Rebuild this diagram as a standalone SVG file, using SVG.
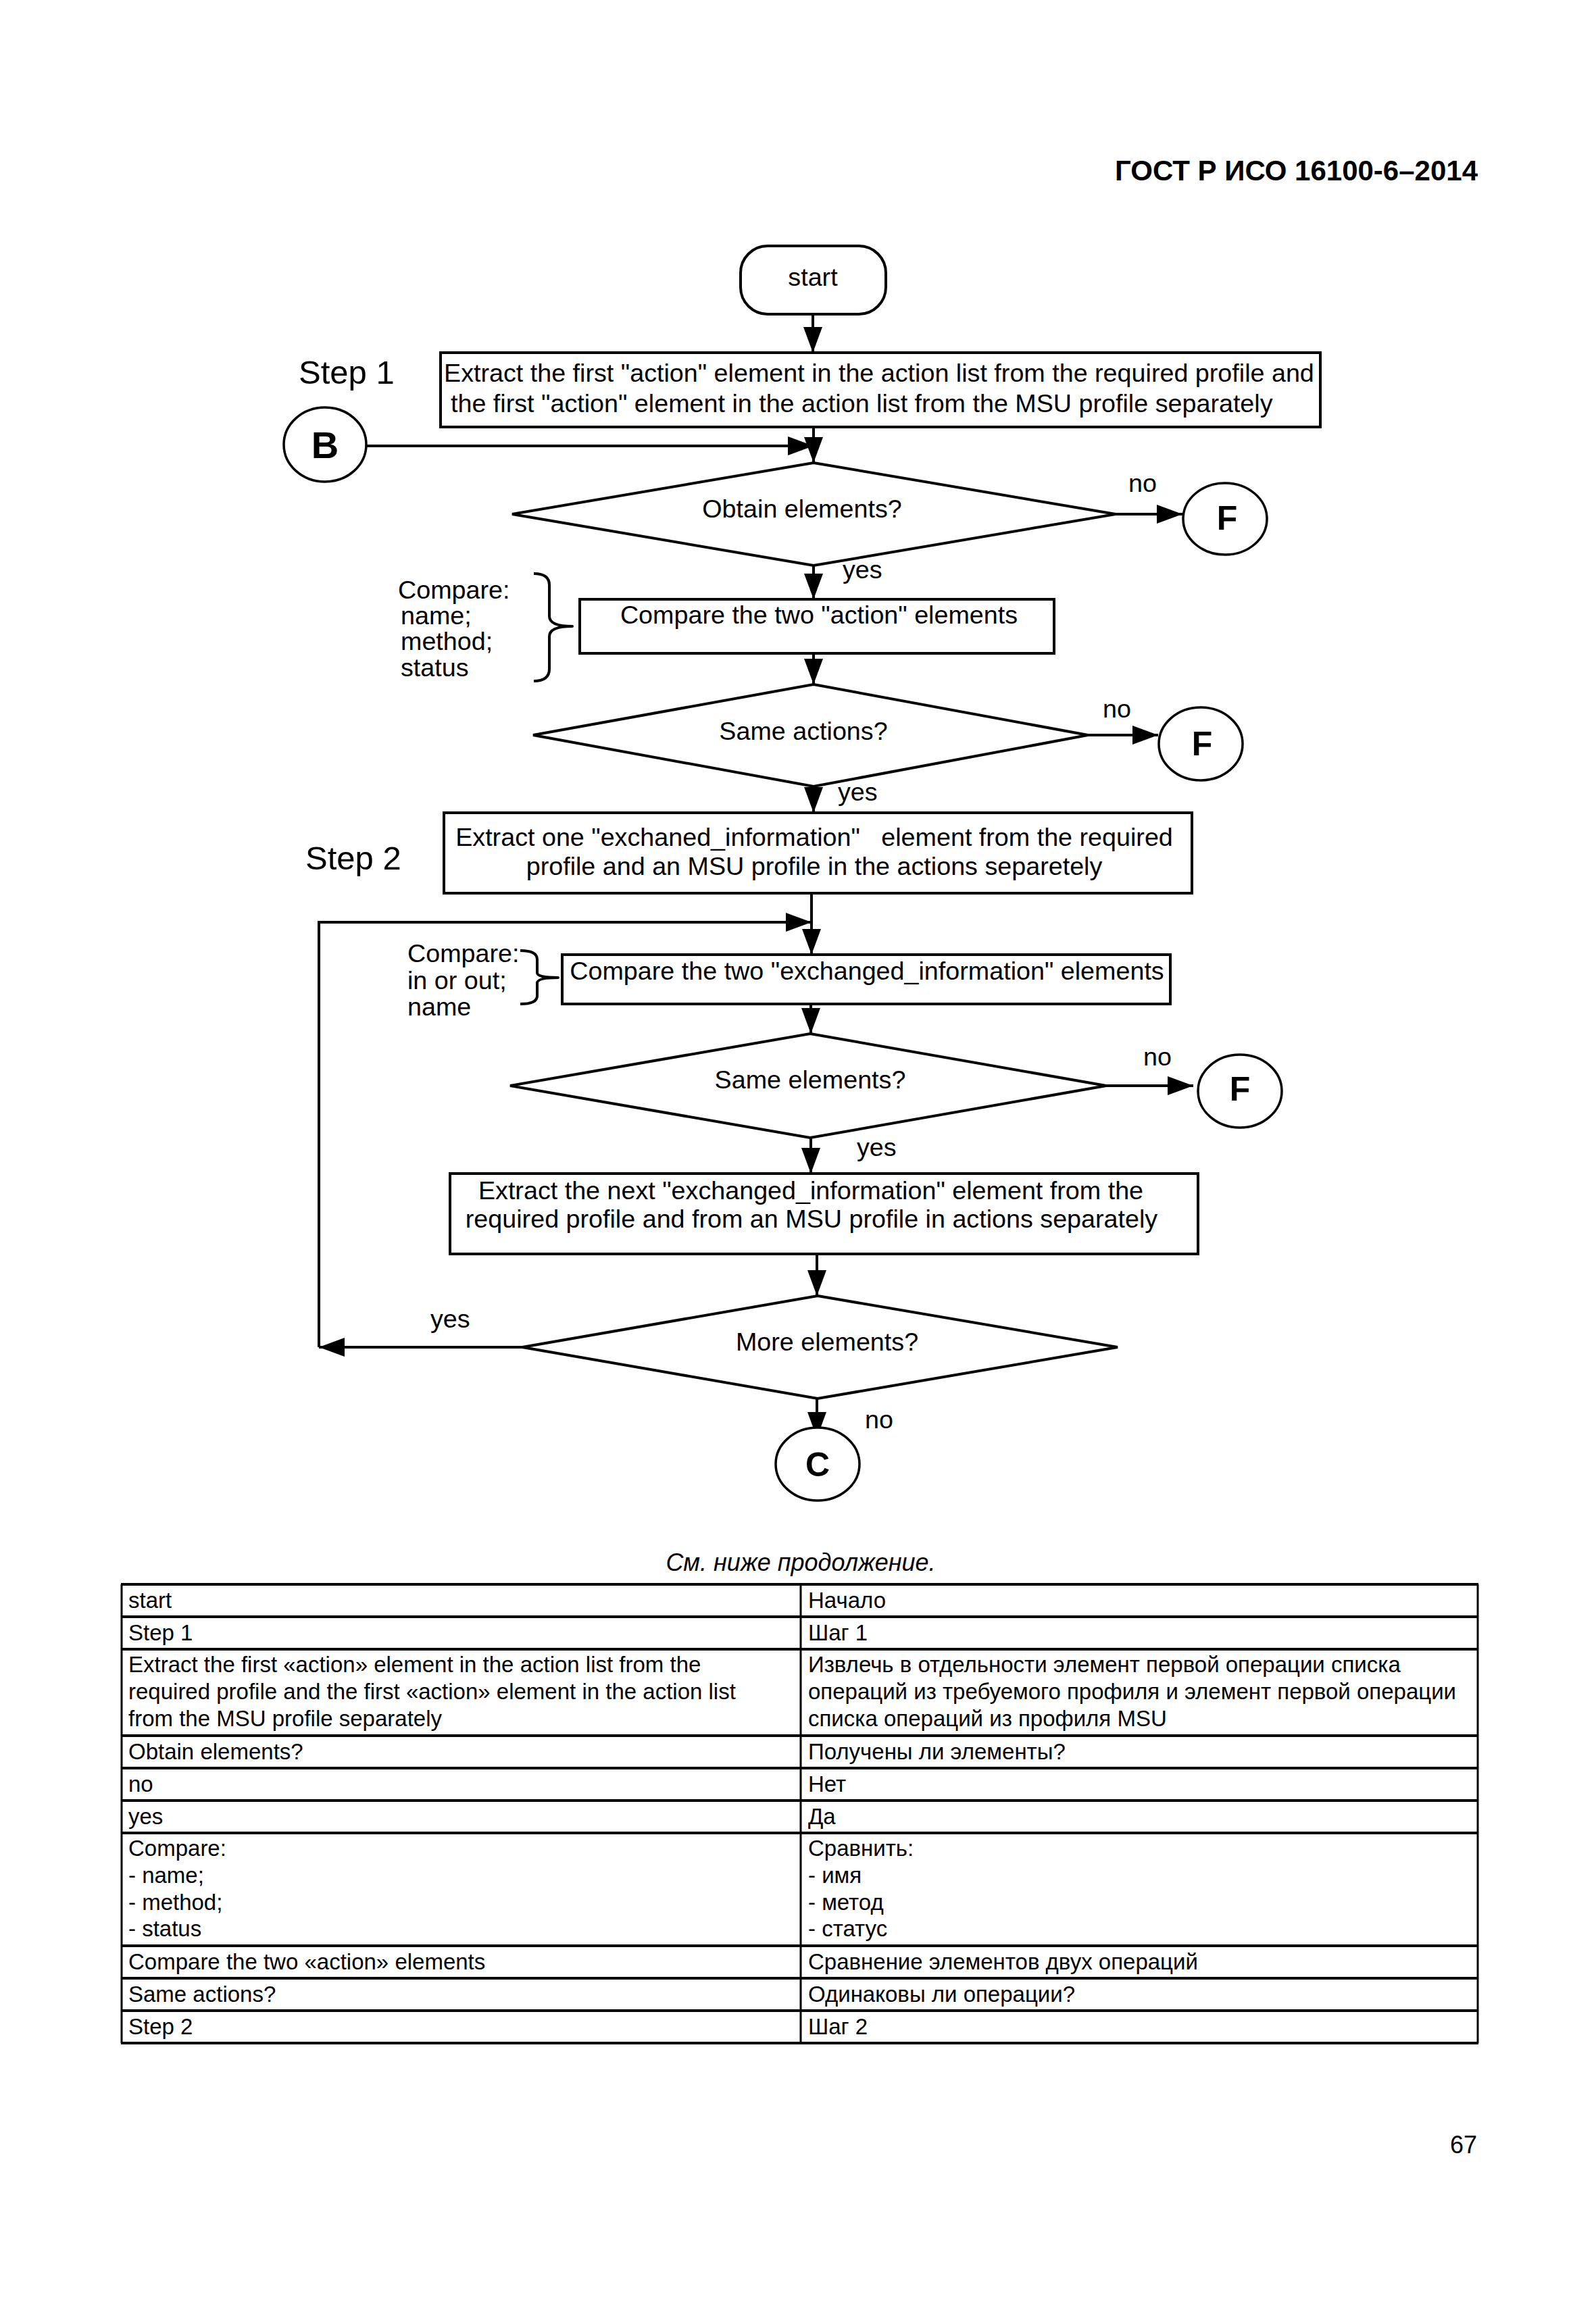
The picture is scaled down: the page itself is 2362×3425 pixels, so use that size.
<svg xmlns="http://www.w3.org/2000/svg" width="2362" height="3425" viewBox="0 0 2362 3425">
<style>
text{font-family:"Liberation Sans",Arial,sans-serif;fill:#000}
.t{font-size:37.7px}
.step{font-size:49px}
.conn{font-size:50px;font-weight:bold;text-anchor:middle}
.hdr{font-size:42px;font-weight:bold;text-anchor:end}
.tbl{font-size:33px}
.cap{font-size:36px;font-style:italic;text-anchor:middle}
.mid{text-anchor:middle}
.shape{fill:#fff;stroke:#000;stroke-width:4}
.circ{fill:#fff;stroke:#000;stroke-width:3.5}
.line{fill:none;stroke:#000;stroke-width:4}
.brace{fill:none;stroke:#000;stroke-width:4;stroke-linejoin:round}
.hl{stroke:#000;stroke-width:4}
.vl{stroke:#000;stroke-width:3}
</style>
<defs>
<marker id="arr" viewBox="0 0 38 28" refX="38" refY="14" markerWidth="38" markerHeight="28" markerUnits="userSpaceOnUse" orient="auto">
<path d="M0,0 L38,14 L0,28 z" fill="#000"/>
</marker>
</defs>
<rect width="2362" height="3425" fill="#fff"/>
<text class="hdr" x="2187" y="267">ГОСТ Р ИСО 16100-6–2014</text>

<g id="connectors">
<path class="line" d="M1203,465 L1203,522" marker-end="url(#arr)"/>
<path class="line" d="M1204,632 L1204,685" marker-end="url(#arr)"/>
<path class="line" d="M542,660 L1204,660" marker-end="url(#arr)"/>
<path class="line" d="M1651,761 L1750,761" marker-end="url(#arr)"/>
<path class="line" d="M1204,837 L1204,887" marker-end="url(#arr)"/>
<path class="line" d="M1204,967 L1204,1013" marker-end="url(#arr)"/>
<path class="line" d="M1610,1088 L1714,1088" marker-end="url(#arr)"/>
<path class="line" d="M1204,1164 L1204,1203" marker-end="url(#arr)"/>
<path class="line" d="M1201,1322 L1201,1413" marker-end="url(#arr)"/>
<path class="line" d="M472,1994 L472,1365 L1201,1365" marker-end="url(#arr)"/>
<path class="line" d="M1200,1486 L1200,1530" marker-end="url(#arr)"/>
<path class="line" d="M1637,1607 L1766,1607" marker-end="url(#arr)"/>
<path class="line" d="M1200,1684 L1200,1737" marker-end="url(#arr)"/>
<path class="line" d="M1209,1856 L1209,1918" marker-end="url(#arr)"/>
<path class="line" d="M773,1994 L472,1994" marker-end="url(#arr)"/>
<path class="line" d="M1209,2070 L1209,2128" marker-end="url(#arr)"/>
<text class="t" x="1670" y="728">no</text>
<text class="t" x="1247" y="856">yes</text>
<text class="t" x="1632" y="1062">no</text>
<text class="t" x="1240" y="1185">yes</text>
<text class="t" x="1692" y="1577">no</text>
<text class="t" x="1268" y="1711">yes</text>
<text class="t" x="637" y="1965">yes</text>
<text class="t" x="1280" y="2114">no</text>
</g>

<g id="start">
<rect class="shape" x="1096" y="364" width="215" height="101" rx="40" ry="40"/>
<text class="t mid" x="1203" y="423">start</text>
</g>

<g id="step1-label"><text class="step" x="442" y="568">Step 1</text></g>

<g id="step1-box">
<rect class="shape" x="652" y="522" width="1302" height="110"/>
<text class="t" x="657" y="565">Extract the first "action" element in the action list from the required profile and</text>
<text class="t" x="667" y="610">the first "action" element in the action list from the MSU profile separately</text>
</g>

<g id="B">
<ellipse class="circ" cx="481" cy="658" rx="61" ry="55"/>
<text class="conn" x="481" y="678" style="font-size:56px">B</text>
</g>

<g id="obtain">
<polygon class="shape" points="1204,685 1651,761 1204,837 758,761"/>
<text class="t mid" x="1187" y="766">Obtain elements?</text>
</g>

<g id="F1">
<ellipse class="circ" cx="1813" cy="768" rx="62" ry="53"/>
<text class="conn" x="1816" y="784">F</text>
</g>

<g id="compare-note1">
<text class="t" x="589" y="886">Compare:</text>
<text class="t" x="593" y="924">name;</text>
<text class="t" x="593" y="962">method;</text>
<text class="t" x="593" y="1001">status</text>
<path class="brace" d="M790,849 Q813,849 813,866 L813,912 Q813,927 847,927 Q813,927 813,942 L813,990 Q813,1008 790,1008"/>
</g>

<g id="compare-actions">
<rect class="shape" x="858" y="887" width="702" height="80"/>
<text class="t mid" x="1212" y="923">Compare the two "action" elements</text>
</g>

<g id="same-actions">
<polygon class="shape" points="1204,1013 1610,1088 1204,1164 789,1088"/>
<text class="t mid" x="1189" y="1095">Same actions?</text>
</g>

<g id="F2">
<ellipse class="circ" cx="1777" cy="1101" rx="62" ry="54"/>
<text class="conn" x="1779" y="1118">F</text>
</g>

<g id="step2-label"><text class="step" x="452" y="1287">Step 2</text></g>

<g id="step2-box">
<rect class="shape" x="657" y="1203" width="1107" height="119"/>
<text class="t mid" x="1205" y="1252" xml:space="preserve" style="white-space:pre">Extract one "exchaned_information"   element from the required</text>
<text class="t mid" x="1205" y="1295">profile and an MSU profile in the actions separetely</text>
</g>

<g id="compare-note2">
<text class="t" x="603" y="1424">Compare:</text>
<text class="t" x="603" y="1464">in or out;</text>
<text class="t" x="603" y="1503">name</text>
<path class="brace" d="M770,1407 Q795,1407 795,1420 L795,1440 Q795,1447 826,1447 Q795,1447 795,1455 L795,1474 Q795,1486 770,1486"/>
</g>

<g id="compare-exchanged">
<rect class="shape" x="832" y="1413" width="900" height="73"/>
<text class="t mid" x="1283" y="1450">Compare the two "exchanged_information" elements</text>
</g>

<g id="same-elements">
<polygon class="shape" points="1199,1530 1637,1607 1199,1684 755,1607"/>
<text class="t mid" x="1199" y="1611">Same elements?</text>
</g>

<g id="F3">
<ellipse class="circ" cx="1835" cy="1615" rx="62" ry="54"/>
<text class="conn" x="1835" y="1629">F</text>
</g>

<g id="extract-next">
<rect class="shape" x="666" y="1737" width="1107" height="119"/>
<text class="t mid" x="1200" y="1775">Extract the next "exchanged_information" element from the</text>
<text class="t mid" x="1201" y="1817">required profile and from an MSU profile in actions separately</text>
</g>

<g id="more-elements">
<polygon class="shape" points="1210,1918 1654,1994 1210,2070 773,1994"/>
<text class="t mid" x="1224" y="1999">More elements?</text>
</g>

<g id="C">
<ellipse class="circ" cx="1210" cy="2167" rx="62" ry="54"/>
<text class="conn" x="1210" y="2185">C</text>
</g>

<text class="cap" x="1185" y="2325">См. ниже продолжение.</text>

<g id="table">
<line class="vl" x1="180" y1="2345" x2="180" y2="3024"/>
<line class="vl" x1="1185" y1="2345" x2="1185" y2="3024"/>
<line class="vl" x1="2187" y1="2345" x2="2187" y2="3024"/>
<line class="hl" x1="179" y1="2345" x2="2188" y2="2345"/>
<line class="hl" x1="179" y1="2393" x2="2188" y2="2393"/>
<line class="hl" x1="179" y1="2441" x2="2188" y2="2441"/>
<line class="hl" x1="179" y1="2569" x2="2188" y2="2569"/>
<line class="hl" x1="179" y1="2617" x2="2188" y2="2617"/>
<line class="hl" x1="179" y1="2665" x2="2188" y2="2665"/>
<line class="hl" x1="179" y1="2713" x2="2188" y2="2713"/>
<line class="hl" x1="179" y1="2880" x2="2188" y2="2880"/>
<line class="hl" x1="179" y1="2928" x2="2188" y2="2928"/>
<line class="hl" x1="179" y1="2976" x2="2188" y2="2976"/>
<line class="hl" x1="179" y1="3024" x2="2188" y2="3024"/>
<text class="tbl" x="190" y="2380">start</text>
<text class="tbl" x="1196" y="2380">Начало</text>
<text class="tbl" x="190" y="2428">Step 1</text>
<text class="tbl" x="1196" y="2428">Шаг 1</text>
<text class="tbl" x="190" y="2475">Extract the first «action» element in the action list from the</text>
<text class="tbl" x="190" y="2515">required profile and the first «action» element in the action list</text>
<text class="tbl" x="190" y="2555">from the MSU profile separately</text>
<text class="tbl" x="1196" y="2475">Извлечь в отдельности элемент первой операции списка</text>
<text class="tbl" x="1196" y="2515">операций из требуемого профиля и элемент первой операции</text>
<text class="tbl" x="1196" y="2555">списка операций из профиля MSU</text>
<text class="tbl" x="190" y="2604">Obtain elements?</text>
<text class="tbl" x="1196" y="2604">Получены ли элементы?</text>
<text class="tbl" x="190" y="2652">no</text>
<text class="tbl" x="1196" y="2652">Нет</text>
<text class="tbl" x="190" y="2700">yes</text>
<text class="tbl" x="1196" y="2700">Да</text>
<text class="tbl" x="190" y="2747">Compare:</text>
<text class="tbl" x="190" y="2787">- name;</text>
<text class="tbl" x="190" y="2827">- method;</text>
<text class="tbl" x="190" y="2866">- status</text>
<text class="tbl" x="1196" y="2747">Сравнить:</text>
<text class="tbl" x="1196" y="2787">- имя</text>
<text class="tbl" x="1196" y="2827">- метод</text>
<text class="tbl" x="1196" y="2866">- статус</text>
<text class="tbl" x="190" y="2915">Compare the two «action» elements</text>
<text class="tbl" x="1196" y="2915">Сравнение элементов двух операций</text>
<text class="tbl" x="190" y="2963">Same actions?</text>
<text class="tbl" x="1196" y="2963">Одинаковы ли операции?</text>
<text class="tbl" x="190" y="3011">Step 2</text>
<text class="tbl" x="1196" y="3011">Шаг 2</text>
</g>

<text class="t" x="2186" y="3187" style="font-size:36px;text-anchor:end">67</text>
</svg>
